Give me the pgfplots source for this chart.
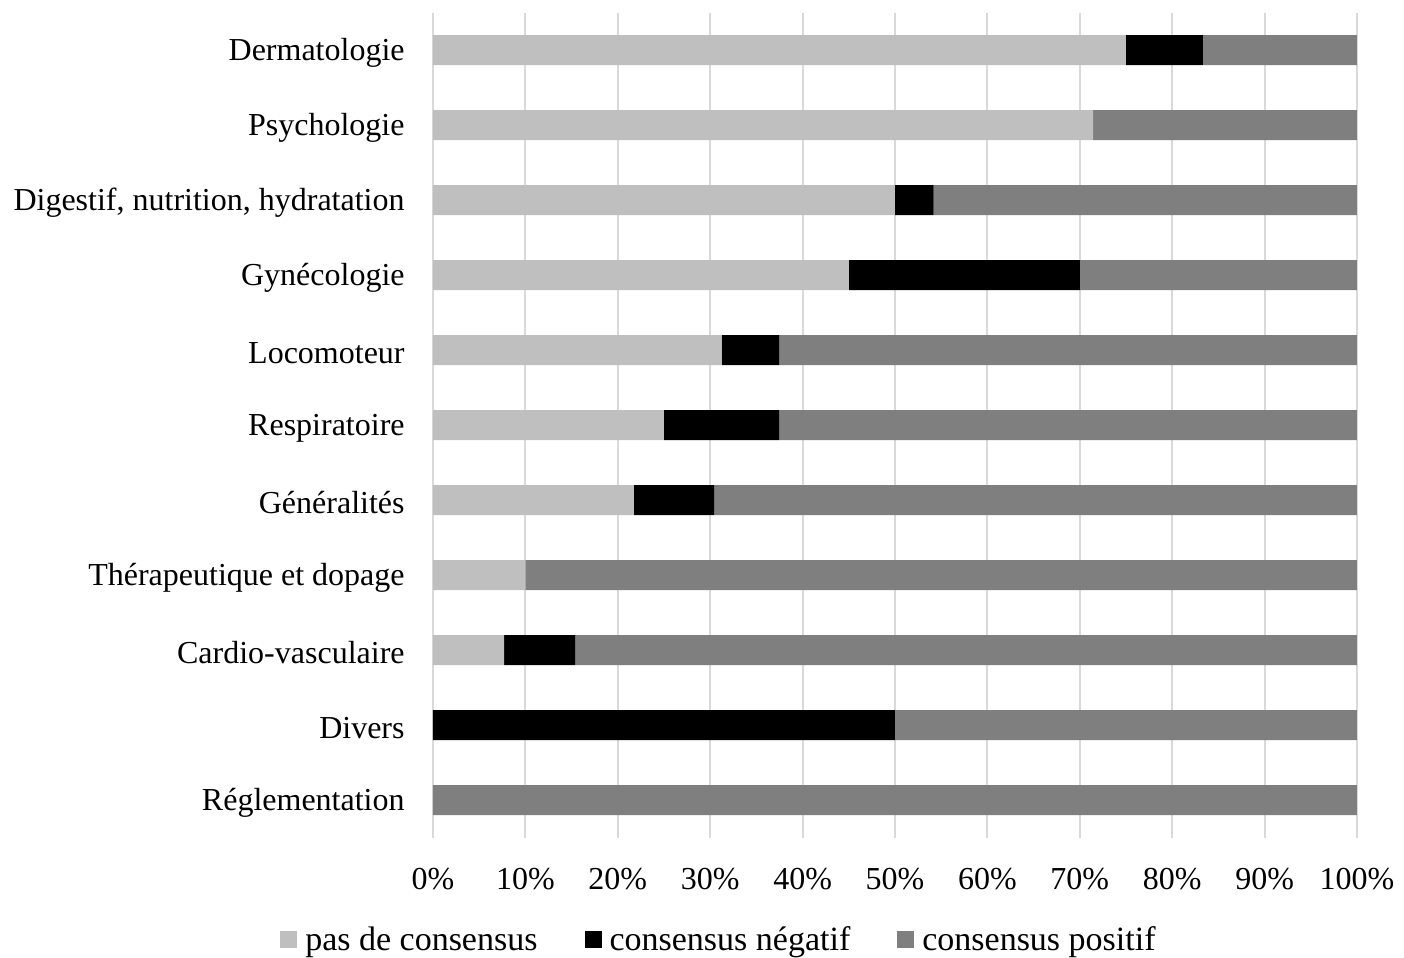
\documentclass[border=0pt]{standalone}
\usepackage{fontspec}
\setmainfont{Liberation Serif}
\usepackage{pgfplots}
\pgfplotsset{compat=1.18}

\definecolor{pasc}{HTML}{BFBFBF}
\definecolor{posc}{HTML}{7F7F7F}
\definecolor{gridc}{HTML}{D9D9D9}

\begin{document}
\begin{tikzpicture}
\useasboundingbox (-216.5pt,-60.25pt) rectangle (485.5pt,418.75pt);
\begin{axis}[
  at={(0,0)}, anchor=south west,
  scale only axis,
  width=462pt, height=412.5pt,
  xbar stacked,
  bar width=15pt,
  y dir=reverse,
  xmin=0, xmax=100,
  ymin=-0.5, ymax=10.5,
  xtick={0,10,...,100},
  ytick={0,...,10},
  yticklabels={Dermatologie, Psychologie, {Digestif, nutrition, hydratation}, Gynécologie, Locomoteur, Respiratoire, Généralités, Thérapeutique et dopage, Cardio-vasculaire, Divers, Réglementation},
  xticklabel={\pgfmathprintnumber{\tick}\%},
  /pgf/number format/assume math mode=true,
  xticklabel style={font=\fontsize{16pt}{19pt}\selectfont, inner sep=0pt, yshift=-15pt},
  yticklabel style={font=\fontsize{16pt}{19pt}\selectfont, inner sep=0pt, xshift=-14pt, yshift=-1.5pt},
  major tick length=0pt,
  axis line style={draw=none},
  xmajorgrids,
  grid style={gridc, line width=1pt},
  legend columns=-1,
  legend style={at={(0.3084,-0.1242)}, anchor=center, draw=none,
    font=\fontsize{17pt}{20pt}\selectfont, inner sep=0pt,
    nodes={inner sep=0pt},
    /tikz/every even column/.append style={column sep=23.5pt},
    /tikz/every odd column/.append style={column sep=4pt}},
  legend image code/.code={\fill[#1] (0pt,-4.25pt) rectangle (8.5pt,4.25pt);},
]
\addplot[fill=pasc, draw=none] coordinates {
  (75,0) (71.43,1) (50,2) (45,3) (31.25,4) (25,5) (21.74,6) (10,7) (7.69,8) (0,9) (0,10)};
\addlegendentry{pas de consensus}
\addplot[fill=black, draw=none] coordinates {
  (8.33,0) (0,1) (4.17,2) (25,3) (6.25,4) (12.5,5) (8.70,6) (0,7) (7.69,8) (50,9) (0,10)};
\addlegendentry{consensus négatif}
\addplot[fill=posc, draw=none] coordinates {
  (16.67,0) (28.57,1) (45.83,2) (30,3) (62.5,4) (62.5,5) (69.56,6) (90,7) (84.62,8) (50,9) (100,10)};
\addlegendentry{consensus positif}
\end{axis}
\end{tikzpicture}
\end{document}
